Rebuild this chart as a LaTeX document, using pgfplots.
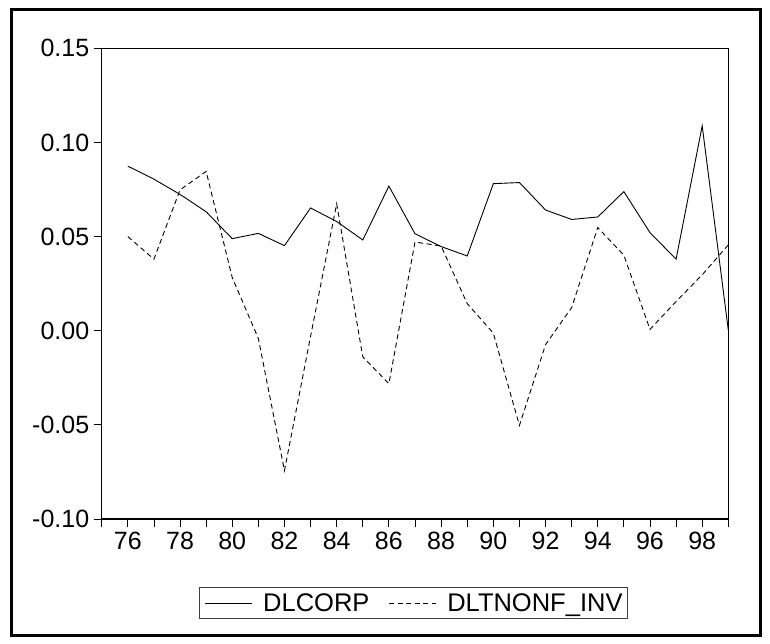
\documentclass[border=0pt]{standalone}
\usepackage{fontspec}
\setmainfont{Liberation Sans}
\usepackage{pgfplots}
\usepackage{pgfplotstable}
\pgfplotsset{compat=1.18}
\pgfplotstableread{
year corp nonf
76 0.0874 0.0500
77 0.0805 0.0380
78 0.0724 0.0748
79 0.0632 0.0846
80 0.0489 0.0282
81 0.0517 -0.0041
82 0.0452 -0.0743
83 0.0652 -0.0030
84 0.0580 0.0674
85 0.0482 -0.0139
86 0.0768 -0.0281
87 0.0515 0.0471
88 0.0447 0.0450
89 0.0397 0.0144
90 0.0781 -0.0013
91 0.0787 -0.0503
92 0.0641 -0.0074
93 0.0591 0.0123
94 0.0604 0.0548
95 0.0739 0.0401
96 0.0521 0.0007
97 0.0380 0.0155
98 0.1088 0.0297
99 0.0003 0.0456
}\datatable
\begin{document}
\begin{tikzpicture}
\path[use as bounding box] (0bp,0bp) rectangle (770bp,644bp);
\draw[line width=3bp] (11.5bp,8bp) rectangle (760bp,634.5bp);
\begin{axis}[
  at={(101.7bp,125bp)}, anchor=south west,
  width=626.6bp, height=470.7bp, scale only axis,
  xmin=75, xmax=99, ymin=-0.1, ymax=0.15,
  axis line style={line width=1.2bp},
  xtick={75,...,99},
  xticklabels={,76,,78,,80,,82,,84,,86,,88,,90,,92,,94,,96,,98,},
  ytick={-0.1,-0.05,0,0.05,0.1,0.15},
  yticklabels={-0.10,-0.05,0.00,0.05,0.10,0.15},
  tick align=outside, xtick pos=bottom, ytick pos=left,
  major tick length=8bp,
  tick style={black, line width=0.8bp},
  tick label style={font=\fontsize{25bp}{30bp}\selectfont},
  xticklabel style={yshift=-2bp},
  yticklabel style={xshift=-1bp},
  legend columns=-1,
  legend style={at={(0.1558,-0.1445)}, anchor=north west,
    draw=black!75, line width=1bp,
    font=\fontsize{25.5bp}{30bp}\selectfont,
    inner xsep=5bp, inner ysep=3bp,
    nodes={inner xsep=0pt, inner ysep=3bp},
    /tikz/every odd column/.append style={column sep=10.6bp},
    /tikz/every even column/.append style={column sep=19.4bp}},
  legend image code/.code={\draw[#1, line width=0.8bp] (0bp,0bp) -- (47bp,0bp);},
]
\addplot[black, line width=0.9bp] table[x=year, y=corp] {\datatable};
\addlegendentry{DLCORP}
\addplot[black, line width=0.9bp, dash pattern=on 5bp off 3.5bp] table[x=year, y=nonf] {\datatable};
\addlegendentry{DLTNONF\_INV}
\end{axis}
\end{tikzpicture}
\end{document}
